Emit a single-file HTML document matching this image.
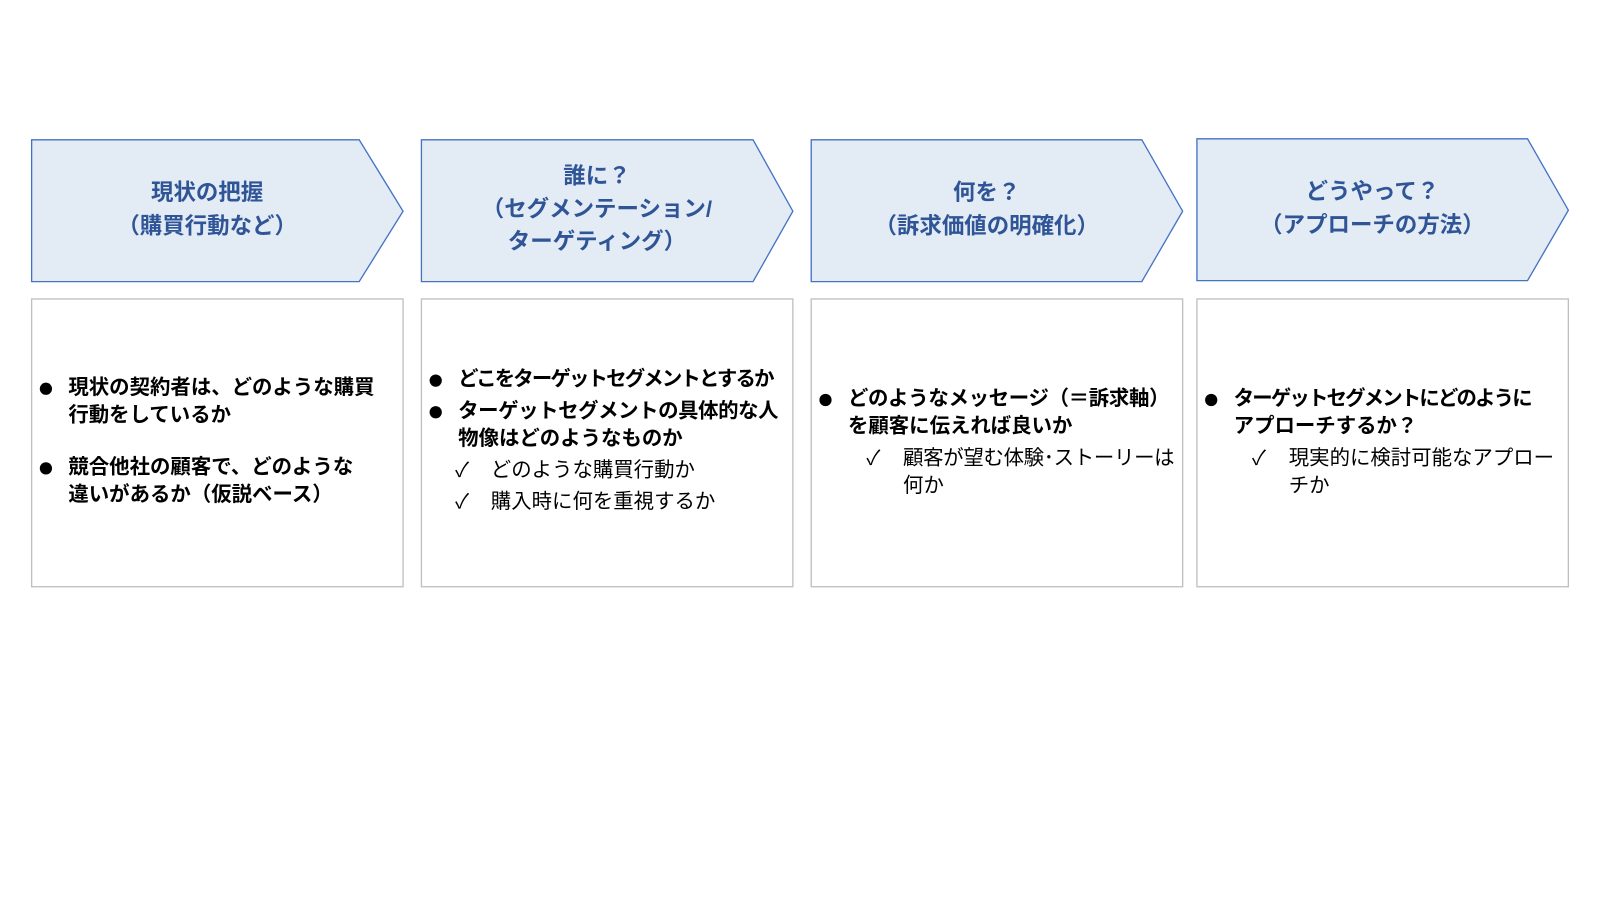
<!DOCTYPE html>
<html><head><meta charset="utf-8"><style>
body{margin:0;width:1600px;height:900px;background:#fff;position:relative;overflow:hidden;font-family:"Liberation Sans","Noto Sans CJK JP",sans-serif}
#w{position:absolute;left:0;top:0;width:1600px;height:900px;transform:scale(1.0204);transform-origin:0 0}
.t{position:absolute;color:#2F5597;font-weight:bold;font-size:22px;text-align:center;line-height:33px}
.l{position:absolute;font-size:20px;white-space:nowrap;color:#000;line-height:27px}
.b{font-weight:bold}
.d{position:absolute;width:12px;height:12px;border-radius:50%;background:#000}
</style></head><body><div id="w">
<svg width="1600" height="900" style="position:absolute;left:0;top:0">
<g fill="#E3EBF5" stroke="#4472C4" stroke-width="1.3">
<polygon points="31,137 352,137 395,207 352,276 31,276"/>
<polygon points="413,137 738,137 777,207 738,276 413,276"/>
<polygon points="795,137 1119,137 1159,207 1119,276 795,276"/>
<polygon points="1173,136 1497,136 1537,206 1497,275 1173,275"/>
</g>
<g fill="#fff" stroke="#BFBFBF" stroke-width="1.3">
<rect x="31" y="293" width="364" height="282"/>
<rect x="413" y="293" width="364" height="282"/>
<rect x="795" y="293" width="364" height="282"/>
<rect x="1173" y="293" width="364" height="282"/>
</g>
</svg>
<div class="t" style="left:31px;width:344px;top:172px">現状の把握<br>（購買行動など）</div>
<div class="t" style="left:413px;width:344px;top:157px;line-height:32px">誰に？<br>（セグメンテーション/<br>ターゲティング）</div>
<div class="t" style="left:795px;width:344px;top:172px">何を？<br>（訴求価値の明確化）</div>
<div class="t" style="left:1173px;width:344px;top:171px">どうやって？<br>（アプローチの方法）</div>

<div class="d" style="left:39px;top:375px"></div>
<div class="l b" style="left:67px;top:367px">現状の契約者は、どのような購買</div>
<div class="l b" style="left:67px;top:394px">行動をしているか</div>
<div class="d" style="left:39px;top:453px"></div>
<div class="l b" style="left:67px;top:445px">競合他社の顧客で、どのような</div>
<div class="l b" style="left:67px;top:472px">違いがあるか（仮説ベース）</div>

<div class="d" style="left:421px;top:367px"></div>
<div class="l b" style="left:449px;top:359px;letter-spacing:-1.8px">どこをターゲットセグメントとするか</div>
<div class="d" style="left:421px;top:398px"></div>
<div class="l b" style="left:449px;top:390px;letter-spacing:-0.4px">ターゲットセグメントの具体的な人</div>
<div class="l b" style="left:449px;top:417px">物像はどのようなものか</div>
<div class="l" style="left:446px;top:448px">✓</div><div class="l" style="left:481px;top:448px">どのような購買行動か</div>
<div class="l" style="left:446px;top:479px">✓</div><div class="l" style="left:481px;top:479px">購入時に何を重視するか</div>

<div class="d" style="left:803px;top:386px"></div>
<div class="l b" style="left:831px;top:378px;letter-spacing:-0.3px">どのようなメッセージ（＝訴求軸）</div>
<div class="l b" style="left:831px;top:405px">を顧客に伝えれば良いか</div>
<div class="l" style="left:849px;top:436px">✓</div><div class="l" style="left:885px;top:436px;letter-spacing:-0.3px">顧客が望む体験･ストーリーは</div>
<div class="l" style="left:885px;top:463px">何か</div>

<div class="d" style="left:1181px;top:386px"></div>
<div class="l b" style="left:1209px;top:378px;letter-spacing:-1.8px">ターゲットセグメントにどのように</div>
<div class="l b" style="left:1209px;top:405px">アプローチするか？</div>
<div class="l" style="left:1227px;top:436px">✓</div><div class="l" style="left:1263px;top:436px">現実的に検討可能なアプロー</div>
<div class="l" style="left:1263px;top:463px">チか</div>
</div></body></html>
